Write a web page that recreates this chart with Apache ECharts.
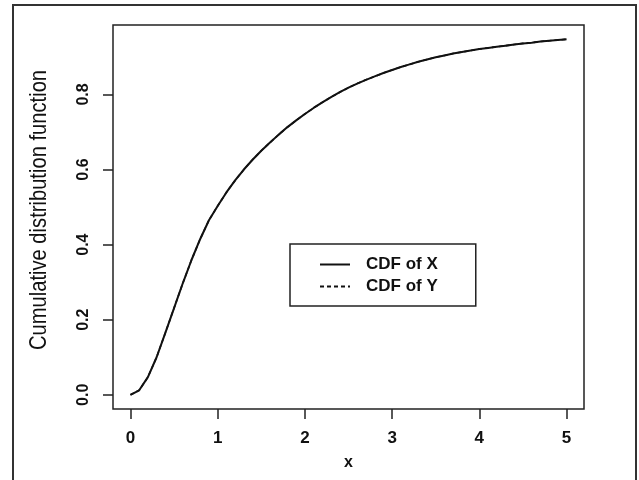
<!DOCTYPE html>
<html>
<head>
<meta charset="utf-8">
<script src="https://cdn.jsdelivr.net/npm/echarts@6/dist/echarts.min.js"></script>
<style>html,body{margin:0;padding:0;background:#fff}#c{width:639px;height:480px}</style>
</head>
<body>
<div id="c"></div>
<script>
var xValues = [0, 0.1, 0.2, 0.3, 0.4, 0.5, 0.6, 0.7, 0.8, 0.9,
               1.0, 1.1, 1.2, 1.3, 1.4, 1.5, 1.6, 1.7, 1.8, 1.9,
               2.0, 2.1, 2.2, 2.3, 2.4, 2.5, 2.6, 2.7, 2.8, 2.9,
               3.0, 3.1, 3.2, 3.3, 3.4, 3.5, 3.6, 3.7, 3.8, 3.9,
               4.0, 4.1, 4.2, 4.3, 4.4, 4.5, 4.6, 4.7, 4.8, 4.9, 5.0];
var cdfX = [0, 0.012, 0.047, 0.100, 0.165, 0.231, 0.297, 0.359, 0.415, 0.465,
            0.503, 0.539, 0.571, 0.600, 0.626, 0.650, 0.672, 0.693, 0.713, 0.731,
            0.748, 0.764, 0.779, 0.793, 0.806, 0.818, 0.829, 0.839, 0.848, 0.857,
            0.865, 0.873, 0.880, 0.887, 0.893, 0.899, 0.904, 0.909, 0.913, 0.917,
            0.921, 0.924, 0.927, 0.930, 0.933, 0.936, 0.938, 0.941, 0.943, 0.945, 0.947];
var cdfY = cdfX.slice();
var xTicks = [0, 1, 2, 3, 4, 5];
var yTicks = [0, 0.2, 0.4, 0.6, 0.8];
var xTitle = 'x';
var yTitle = 'Cumulative distribution function';

var chart = echarts.init(document.getElementById('c'), null, {renderer: 'canvas'});
var font = '"Liberation Sans", Arial, Helvetica, sans-serif';
function pairs(xs, ys) { return xs.map(function (x, i) { return [x, ys[i]]; }); }

chart.setOption({
  animation: false,
  backgroundColor: '#fff',
  grid: {left: 113, top: 25, right: 55, bottom: 71, show: true, borderColor: '#222', borderWidth: 1.5, backgroundColor: 'transparent'},
  xAxis: {
    type: 'value', min: -0.2, max: 5.2,
    name: xTitle, nameLocation: 'middle', nameGap: 46,
    nameTextStyle: {fontFamily: font, fontWeight: 'bold', fontSize: 16, color: '#111'},
    axisLine: {show: false, onZero: false},
    splitLine: {show: false},
    axisTick: {show: true, inside: false, length: 10, customValues: xTicks, lineStyle: {color: '#222', width: 1.5}},
    axisLabel: {customValues: xTicks, margin: 21, fontFamily: font, fontWeight: 'bold', fontSize: 17, color: '#111', formatter: function (v) { return String(v); }}
  },
  yAxis: {
    type: 'value', min: -0.0379, max: 0.985,
    axisLine: {show: false, onZero: false},
    splitLine: {show: false},
    axisTick: {show: true, inside: false, length: 10, customValues: yTicks, lineStyle: {color: '#222', width: 1.5}},
    axisLabel: {customValues: yTicks, rotate: 90, margin: 21, fontFamily: font, fontWeight: 'bold', fontSize: 16, color: '#111', formatter: function (v) { return v.toFixed(1); }}
  },
  legend: {
    left: 290, top: 244, orient: 'vertical',
    data: ['CDF of X', 'CDF of Y'],
    itemWidth: 30, itemHeight: 14, itemGap: 5,
    padding: [12, 38, 11, 29],
    borderColor: '#222', borderWidth: 1.5,
    itemStyle: {opacity: 0},
    textStyle: {fontFamily: font, fontWeight: 'bold', fontSize: 17, lineHeight: 14, color: '#111', padding: [0, 0, 0, 11]}
  },
  graphic: [{
    type: 'rect', shape: {x: 13, y: 5, width: 623, height: 490},
    style: {fill: 'none', stroke: '#333', lineWidth: 2}, silent: true, z: 100
  }, {
    type: 'text', x: 39, y: 210, rotation: Math.PI / 2, scaleX: 0.84, silent: true,
    style: {text: yTitle, font: '24px "Liberation Sans", Arial, sans-serif', fill: '#111', align: 'center', verticalAlign: 'middle'}
  }],
  series: [{
    name: 'CDF of Y', type: 'line', data: pairs(xValues, cdfY), symbol: 'none',
    itemStyle: {color: '#111'},
    lineStyle: {color: '#111', width: 1.6, type: [4, 3]}, z: 1
  }, {
    name: 'CDF of X', type: 'line', data: pairs(xValues, cdfX), symbol: 'none',
    itemStyle: {color: '#111'},
    lineStyle: {color: '#111', width: 2}, z: 2
  }]
});
</script>
</body>
</html>
